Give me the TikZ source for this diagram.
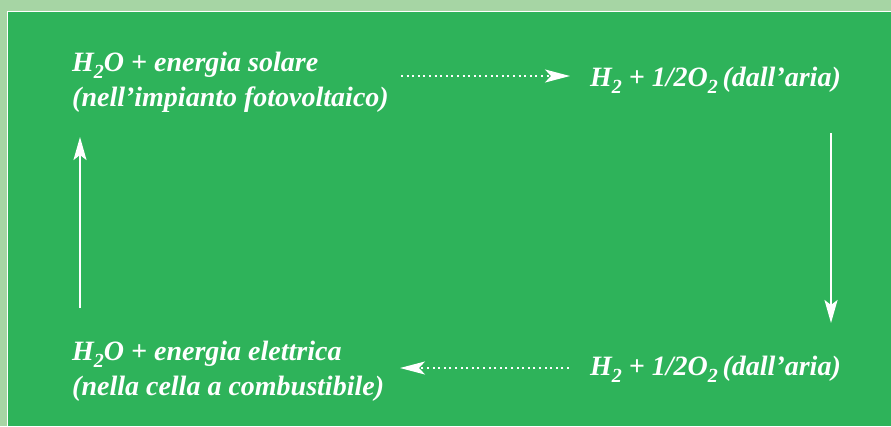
\documentclass[tikz,border=0pt]{standalone}
\usepackage{fontspec}
\setmainfont{Liberation Serif}
\usetikzlibrary{arrows.meta}
\definecolor{bggreen}{HTML}{2EB35A}
\definecolor{edgegreen}{HTML}{A6D5A4}
\newcommand{\mysub}[1]{\raisebox{-0.28em}{\fontsize{20}{20}\selectfont #1}}
\begin{document}
\begin{tikzpicture}[x=1pt,y=-1pt,
  lbl/.style={text=white,font=\fontsize{28}{35}\selectfont\bfseries\itshape,anchor=base west,inner sep=0pt},
  solidarrow/.style={white,line width=2pt,-{Stealth[length=23pt,width=13pt,inset=5pt]}},
  dotarrow/.style={white,line width=2pt,dash pattern=on 2pt off 3.6pt,-{Stealth[length=25pt,width=13pt,inset=6pt]}}]
\useasboundingbox (0,0) rectangle (891,426);
\fill[edgegreen] (0,0) rectangle (891,426);
\fill[bggreen] (8,12) rectangle (891,426);
\draw[white,line width=1pt] (7.5,426) -- (7.5,11.5) -- (891,11.5);
% texts
\node[lbl] (tl1) at (72,71) {H\mysub{2}O + energia solare};
\node[lbl] (tl2) at (72,106) {(nell’impianto fotovoltaico)};
\node[lbl] (tr) at (590,86) {H\mysub{2} + 1/2O\mysub{2}\,(dall’aria)};
\node[lbl] (bl1) at (72,360) {H\mysub{2}O + energia elettrica};
\node[lbl] (bl2) at (72,395) {(nella cella a combustibile)};
\node[lbl] (br) at (590,375) {H\mysub{2} + 1/2O\mysub{2}\,(dall’aria)};
% arrow ends
\coordinate (a1s) at (401,76);
\coordinate (a1e) at (570,76);
\coordinate (a2s) at (831,133);
\coordinate (a2e) at (831,323);
\coordinate (a3s) at (569,368);
\coordinate (a3e) at (400,368);
\coordinate (a4s) at (80,308);
\coordinate (a4e) at (80,137);
\draw[dotarrow] (a1s) -- (a1e);
\draw[solidarrow] (a2s) -- (a2e);
\draw[dotarrow] (a3s) -- (a3e);
\draw[solidarrow] (a4s) -- (a4e);
\end{tikzpicture}
\end{document}
